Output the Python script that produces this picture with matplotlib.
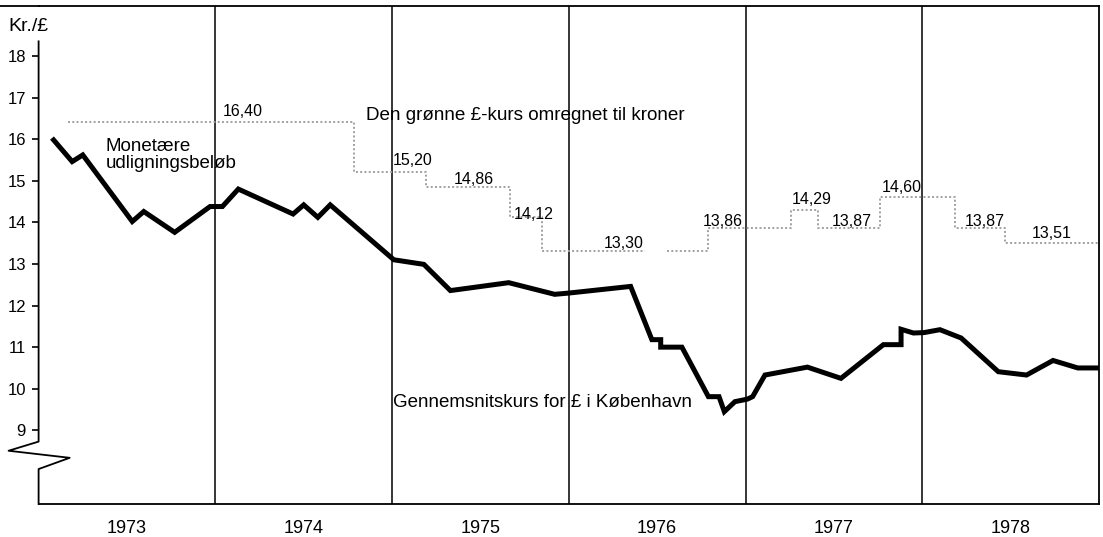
import numpy as np
import matplotlib.pyplot as plt
from matplotlib.lines import Line2D

plt.rcParams['font.family'] = ['Liberation Sans', 'DejaVu Sans']

# average rate for £ in Copenhagen (kr. per £)
avg_years = [1973.085, 1973.19, 1973.25, 1973.53, 1973.595, 1973.77, 1973.97, 1974.04,
             1974.13, 1974.44, 1974.50, 1974.58, 1974.65, 1975.01, 1975.18, 1975.33,
             1975.66, 1975.92, 1976.00, 1976.35, 1976.47, 1976.52, 1976.52, 1976.64,
             1976.79, 1976.85, 1976.88, 1976.94, 1977.01, 1977.04, 1977.11, 1977.35,
             1977.54, 1977.78, 1977.88, 1977.88, 1977.95, 1978.01, 1978.10, 1978.22,
             1978.43, 1978.59, 1978.74, 1978.88, 1979.00]
avg_rate = [15.98, 15.46, 15.62, 14.02, 14.26, 13.76, 14.38, 14.38,
            14.80, 14.20, 14.42, 14.12, 14.42, 13.10, 12.99, 12.36,
            12.55, 12.27, 12.30, 12.46, 11.18, 11.18, 11.00, 11.00,
            9.81, 9.81, 9.45, 9.69, 9.75, 9.81, 10.33, 10.52,
            10.25, 11.06, 11.06, 11.43, 11.34, 11.35, 11.42, 11.22,
            10.41, 10.33, 10.68, 10.50, 10.50]

# green £ rate converted to kroner: one level per period
green_start = [1973.166, 1974.785, 1975.19, 1975.67, 1975.85, 1976.79,
               1977.26, 1977.41, 1977.76, 1978.186, 1978.47]
green_end = 1979.0
green_rate = [16.40, 15.20, 14.86, 14.12, 13.30, 13.86,
              14.29, 13.87, 14.60, 13.87, 13.51]
green_gap = (1976.43, 1976.556)   # break in the 13,30 period

years = [1973, 1974, 1975, 1976, 1977, 1978]
y_ticks = [9, 10, 11, 12, 13, 14, 15, 16, 17, 18]

# where the value labels of the green rate sit (left x, centre y)
label_pos = [(1974.044, 16.66), (1975.005, 15.48), (1975.35, 15.02), (1975.69, 14.20),
             (1976.20, 13.48), (1976.76, 14.01), (1977.26, 14.54), (1977.49, 14.01),
             (1977.77, 14.83), (1978.24, 14.01), (1978.62, 13.72)]

W, H = 1103, 537
fig = plt.figure(figsize=(W / 100, H / 100), dpi=100)
left, right, top, bottom = 38.6, 1099, 6, 504
ax = fig.add_axes([left / W, 1 - bottom / H, (right - left) / W, (bottom - top) / H])

y_min, y_max = 7.23, 19.20
ax.set_xlim(years[0], years[-1] + 1)
ax.set_ylim(y_min, y_max)

# green rate as a dotted step line
gx, gy = [], []
for i, v in enumerate(green_rate):
    x1 = green_start[i + 1] if i + 1 < len(green_start) else green_end
    gx += [green_start[i], x1]
    gy += [v, v]
# cut the gap out of the 13,30 level
k = 9  # end point of the 13,30 level
gx[k:k] = [green_gap[0], green_gap[0], green_gap[1]]
gy[k:k] = [green_rate[4], np.nan, green_rate[4]]
ax.plot(gx, gy, color='#a0a0a0', lw=1.4, ls=(0, (1, 1.2)), zorder=2)

for (lx, ly), v in zip(label_pos, green_rate):
    ax.text(lx, ly, f'{v:.2f}'.replace('.', ','), fontsize=11.5, ha='left', va='center')

# average rate
ax.plot(avg_years, avg_rate, color='black', lw=3.6, solid_joinstyle='miter', zorder=3)

# year separators
for yr in years[1:]:
    ax.axvline(yr, color='black', lw=1.1, zorder=1)

ax.spines['left'].set_visible(False)
for s in ['top', 'right', 'bottom']:
    ax.spines[s].set_linewidth(1.3)

# left axis with a zigzag break below 9
brk_x = [years[0], years[0], years[0] + 0.176, years[0] - 0.17, years[0], years[0]]
brk_y = [y_min, 8.07, 8.34, 8.51, 8.73, 18.35]
ax.plot(brk_x, brk_y, color='black', lw=1.3, clip_on=False, zorder=4)
# top frame line runs out to the page edge
fig.add_artist(Line2D([0, left / W], [1 - top / H, 1 - top / H], color='black', lw=1.3))

ax.set_yticks(y_ticks)
ax.set_yticklabels([str(t) for t in y_ticks])
ax.tick_params(axis='y', direction='out', length=5, width=1.2, pad=4, labelsize=12)
ax.set_xticks([])
for yr in years:
    ax.text(yr + 0.5, y_min - 0.58, str(yr), fontsize=13, ha='center', va='center')

ax.text(1972.83, 18.70, 'Kr./£', fontsize=14, ha='left', va='center')
ax.text(1973.38, 15.62, 'Monetære\nudligningsbeløb', fontsize=13.5, ha='left', va='center',
        linespacing=0.95)
ax.text(1974.85, 16.56, 'Den grønne £-kurs omregnet til kroner', fontsize=13.6,
        ha='left', va='center')
ax.text(1975.007, 9.66, 'Gennemsnitskurs for £ i København', fontsize=13.5,
        ha='left', va='center')

fig.savefig('out.png', dpi=100)
